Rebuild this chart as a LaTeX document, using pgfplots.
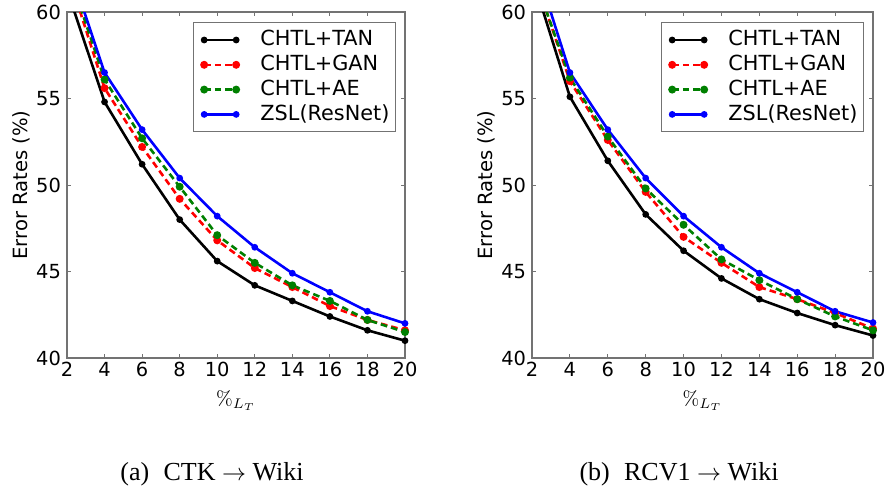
\documentclass[border=0pt]{standalone}
\usepackage[no-math]{fontspec}
\setmainfont{DejaVu Sans}
\newfontfamily\capfont{Liberation Serif}
\usepackage{pgfplots}
\pgfplotsset{compat=1.18}
\definecolor{mgreen}{RGB}{0,128,0}
\pgfplotsset{
  every axis/.append style={
    scale only axis,
    height=173pt,
    xmin=2, xmax=20, ymin=40, ymax=60,
    xtick={2,4,...,20}, ytick={40,45,...,60},
    tick align=inside,
    major tick length=2pt,
    tick style={black!55, line width=0.5pt},
    axis line style={black!55, line width=0.6pt},
    /pgf/number format/assume math mode=true,
    ticklabel style={font=\fontsize{9.7}{10}\selectfont},
    xticklabel style={yshift=1.5pt},
    yticklabel style={xshift=0.5pt},
    xlabel style={font=\fontsize{10}{11}\selectfont},
    every axis y label/.style={at={(axis description cs:0,0.5)}, rotate=90, anchor=center, yshift=23pt, font=\fontsize{9.8}{11}\selectfont},
    xlabel={$\%_{L_T}$},
    ylabel={Error Rates (\%)},
    legend cell align=left,
    legend style={at={(1,1)}, anchor=north east, xshift=-4.5pt, yshift=-5pt,
      draw=black!55, line width=0.6pt, font=\fontsize{10.4}{12}\selectfont,
      inner xsep=2pt, inner ysep=2.5pt, row sep=0pt,
      nodes={inner sep=1pt, text height=8pt, text depth=2.4pt}},
    legend image code/.code={%
      \path (-2.5pt,0pt) (26.5pt,0pt);
      \draw[#1,mark repeat=1,mark phase=1] plot coordinates {(0pt,0pt) (16pt,0pt)};},
  },
  tan/.style={black, solid, line width=1.3pt, mark=*, mark size=1.0pt, mark options={solid}},
  gan/.style={red, line width=1.3pt, dash pattern=on 3.3pt off 2pt, mark=*, mark size=1.3pt, mark options={solid}},
  ae/.style={mgreen, line width=1.3pt, dash pattern=on 3.3pt off 2pt, mark=*, mark size=1.3pt, mark options={solid}},
  zsl/.style={blue, solid, line width=1.3pt, mark=*, mark size=1.0pt, mark options={solid}},
}
\begin{document}
\begin{tikzpicture}
\useasboundingbox (0,0) rectangle (443.5pt,246.5pt);
\begin{axis}[at={(33.5pt,67.5pt)}, anchor=south west, width=169pt]
\addplot[tan] coordinates {(2,61.3) (4,54.8) (6,51.2) (8,48.0) (10,45.6) (12,44.2) (14,43.3) (16,42.4) (18,41.6) (20,41.0)};
\addlegendentry{CHTL+TAN}
\addplot[gan] coordinates {(2,62.4) (4,55.6) (6,52.2) (8,49.2) (10,46.8) (12,45.2) (14,44.1) (16,43.0) (18,42.2) (20,41.6)};
\addlegendentry{CHTL+GAN}
\addplot[ae] coordinates {(2,62.6) (4,56.1) (6,52.7) (8,49.9) (10,47.1) (12,45.5) (14,44.2) (16,43.3) (18,42.2) (20,41.5)};
\addlegendentry{CHTL+AE}
\addplot[zsl] coordinates {(2,63.0) (4,56.5) (6,53.2) (8,50.4) (10,48.2) (12,46.4) (14,44.9) (16,43.8) (18,42.7) (20,42.0)};
\addlegendentry{ZSL(ResNet)}
\end{axis}
\begin{axis}[at={(266pt,67.5pt)}, anchor=south west, width=170.5pt]
\addplot[tan] coordinates {(2,62.1) (4,55.1) (6,51.4) (8,48.3) (10,46.2) (12,44.6) (14,43.4) (16,42.6) (18,41.9) (20,41.3)};
\addlegendentry{CHTL+TAN}
\addplot[gan] coordinates {(2,62.5) (4,56.0) (6,52.6) (8,49.6) (10,47.0) (12,45.5) (14,44.1) (16,43.4) (18,42.6) (20,41.7)};
\addlegendentry{CHTL+GAN}
\addplot[ae] coordinates {(2,62.4) (4,56.2) (6,52.8) (8,49.8) (10,47.7) (12,45.7) (14,44.5) (16,43.4) (18,42.4) (20,41.6)};
\addlegendentry{CHTL+AE}
\addplot[zsl] coordinates {(2,63.4) (4,56.5) (6,53.2) (8,50.4) (10,48.2) (12,46.4) (14,44.9) (16,43.8) (18,42.7) (20,42.05)};
\addlegendentry{ZSL(ResNet)}
\end{axis}
\node[font=\capfont\fontsize{13}{14}\selectfont] at (106pt,9.5pt) {(a)\hspace{0.55em}CTK $\rightarrow$ Wiki};
\node[font=\capfont\fontsize{13}{14}\selectfont] at (339.5pt,9.5pt) {(b)\hspace{0.55em}RCV1 $\rightarrow$ Wiki};
\end{tikzpicture}
\end{document}
